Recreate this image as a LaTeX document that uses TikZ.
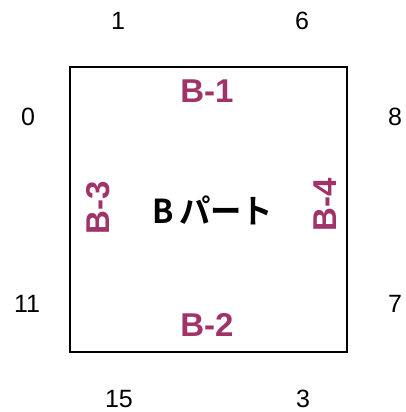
\documentclass[tikz,border=0pt]{standalone}
\usepackage{fontspec}
\setmainfont{Liberation Sans}
\newfontfamily\jpfont{Noto Sans CJK JP}[BoldFont={* Bold}]
\definecolor{plum}{HTML}{A0336A}
\begin{document}
\begin{tikzpicture}[x=1pt,y=-1pt,
  num/.style={font=\fontsize{25}{25}\selectfont, inner sep=0pt},
  part/.style={font=\bfseries\fontsize{33}{33}\selectfont, text=plum, inner sep=0pt},
  title/.style={font=\jpfont\bfseries\fontsize{33}{33}\selectfont, inner sep=0pt, xscale=0.95}]
\useasboundingbox (0,0) rectangle (405,412);
\draw[line width=2pt] (70,67) rectangle (347,352);
\node[num] (n1) at (118,21) {1};
\node[num] (n6) at (302,21) {6};
\node[num] (n0) at (28,117) {0};
\node[num] (n8) at (395,117) {8};
\node[num] (n11) at (27,304) {11};
\node[num] (n7) at (395,304) {7};
\node[num] (n15) at (119,399) {15};
\node[num] (n3) at (303,399) {3};
\node[part] (b1) at (207,91) {B-1};
\node[part] (b2) at (207,325) {B-2};
\node[part, rotate=90] (b3) at (98,208) {B-3};
\node[part, rotate=90] (b4) at (325,205) {B-4};
\node[title] (t) at (213,210) {B\,パート};
\end{tikzpicture}
\end{document}
